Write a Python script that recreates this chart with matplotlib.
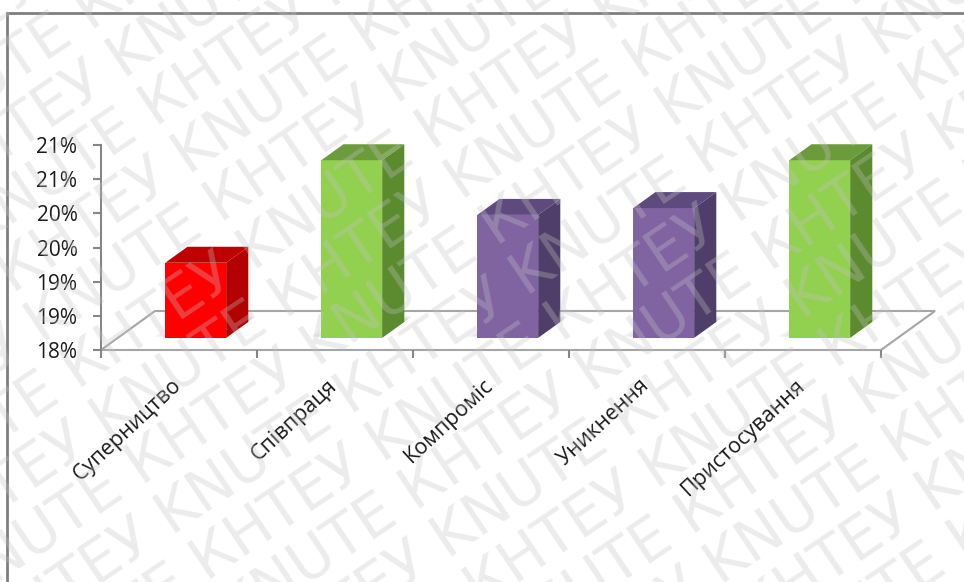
import numpy as np
import matplotlib.pyplot as plt
from matplotlib.patches import Polygon, Rectangle
from matplotlib.transforms import ScaledTranslation

categories = ['Суперництво', 'Співпраця', 'Компроміс', 'Уникнення', 'Пристосування']
values = [19.1, 20.6, 19.8, 19.9, 20.6]
front_colors = ['#ff0000', '#92d050', '#8064a2', '#8064a2', '#92d050']
top_colors = ['#c00000', '#6b9b3b', '#5f4a7e', '#5f4a7e', '#6b9b3b']
side_colors = ['#b30000', '#5c8a2f', '#4f3e69', '#4f3e69', '#5c8a2f']
y_ticks = [18, 18.5, 19, 19.5, 20, 20.5, 21]
y_labels = ['18%', '19%', '19%', '20%', '20%', '21%', '21%']

plt.rcParams['font.family'] = ['Open Sans', 'DejaVu Sans']

W, H = 964, 582
fig = plt.figure(figsize=(W / 100, H / 100), dpi=100)
ax = fig.add_axes([101 / W, 232 / H, 780 / W, 205 / H])
ax.set_xlim(-0.5, 4.5)
ax.set_ylim(18, 21)

# oblique depth of the floor, in data units
DX = 54 / 156
DY = 39 / (205 / 3)
f0, f1 = 0.31, 0.72      # depth of bar front / back faces
bar_w = 0.39
axis_col = '#868686'

# floor
floor = Polygon([(-0.5, 18), (4.5, 18), (4.5 + DX, 18 + DY), (-0.5 + DX, 18 + DY)],
                closed=True, facecolor='white', edgecolor='#a6a6a6', lw=1.5,
                zorder=1, clip_on=False)
ax.add_patch(floor)

x = np.arange(len(categories))
base = 18 + f0 * DY
dd = f1 - f0
for i, v in enumerate(values):
    xc = x[i] + f0 * DX
    xl, xr = xc - bar_w / 2, xc + bar_w / 2
    top = base + (v - 18)
    # soft shadow on the floor
    for k in range(5):
        g = 0.02 * k
        ax.add_patch(Polygon([(xl - 0.07 + g, base + 0.02), (xr, base + 0.02),
                              (xr + (dd + 0.15 - g) * DX, base + (dd + 0.15 - g) * DY),
                              (xl - 0.07 + g + (dd + 0.15 - g) * DX, base + (dd + 0.15 - g) * DY)],
                             closed=True, facecolor='#7f7f7f', edgecolor='none',
                             alpha=0.07, zorder=2, clip_on=False))
    ax.bar(xc, v - 18, bottom=base, width=bar_w, color=front_colors[i],
           zorder=4, clip_on=False)
    ax.add_patch(Polygon([(xl, top), (xr, top), (xr + dd * DX, top + dd * DY),
                          (xl + dd * DX, top + dd * DY)], closed=True,
                         facecolor=top_colors[i], edgecolor='none', zorder=4, clip_on=False))
    ax.add_patch(Polygon([(xr, base), (xr + dd * DX, base + dd * DY),
                          (xr + dd * DX, top + dd * DY), (xr, top)], closed=True,
                         facecolor=side_colors[i], edgecolor='none', zorder=4, clip_on=False))

for s in ['top', 'right', 'bottom']:
    ax.spines[s].set_visible(False)
ax.spines['left'].set_color(axis_col)
ax.spines['left'].set_linewidth(1.5)
ax.patch.set_alpha(0)

ax.set_yticks(y_ticks)
ax.set_yticklabels(y_labels)
ax.tick_params(axis='y', direction='out', length=6, width=1.5, color=axis_col,
               pad=11, labelsize=15, labelcolor='#1a1a1a')

ax.set_xticks(x)
ax.set_xticklabels(categories, rotation=43, ha='right', rotation_mode='anchor')
ax.set_xticks(np.arange(-0.5, 5, 1), minor=True)
ax.tick_params(axis='x', which='major', length=0, pad=18, labelsize=15.5,
               labelcolor='#1a1a1a')
ax.tick_params(axis='x', which='minor', direction='out', length=6, width=1.5,
               color=axis_col)
shift = ScaledTranslation(-8 / 100, 0, fig.dpi_scale_trans)
for lbl in ax.get_xticklabels():
    lbl.set_transform(lbl.get_transform() + shift)

# chart border
fig.patches.append(Rectangle((7 / W, -0.05), 1.1, 1 - 13 / H + 0.05,
                             transform=fig.transFigure, fill=False,
                             edgecolor='#7f7f7f', lw=2, zorder=0))

# watermark
ang = np.deg2rad(34)
dirv = np.array([np.cos(ang), np.sin(ang)])
nrm = np.array([-np.sin(ang), np.cos(ang)])
for k in range(-11, 10):
    p = k * 58 * nrm - 900 * dirv
    word = 'KNUTE КНТЕУ ' if k % 2 == 0 else 'КНТЕУ KNUTE '
    fig.text(p[0] / W, p[1] / H, word * 8, rotation=34, rotation_mode='anchor',
             ha='left', va='baseline', fontsize=42, color='#c4c4c4', alpha=0.32,
             family=['Liberation Sans Narrow', 'DejaVu Sans'], zorder=10)

fig.savefig('out.png', dpi=100)
